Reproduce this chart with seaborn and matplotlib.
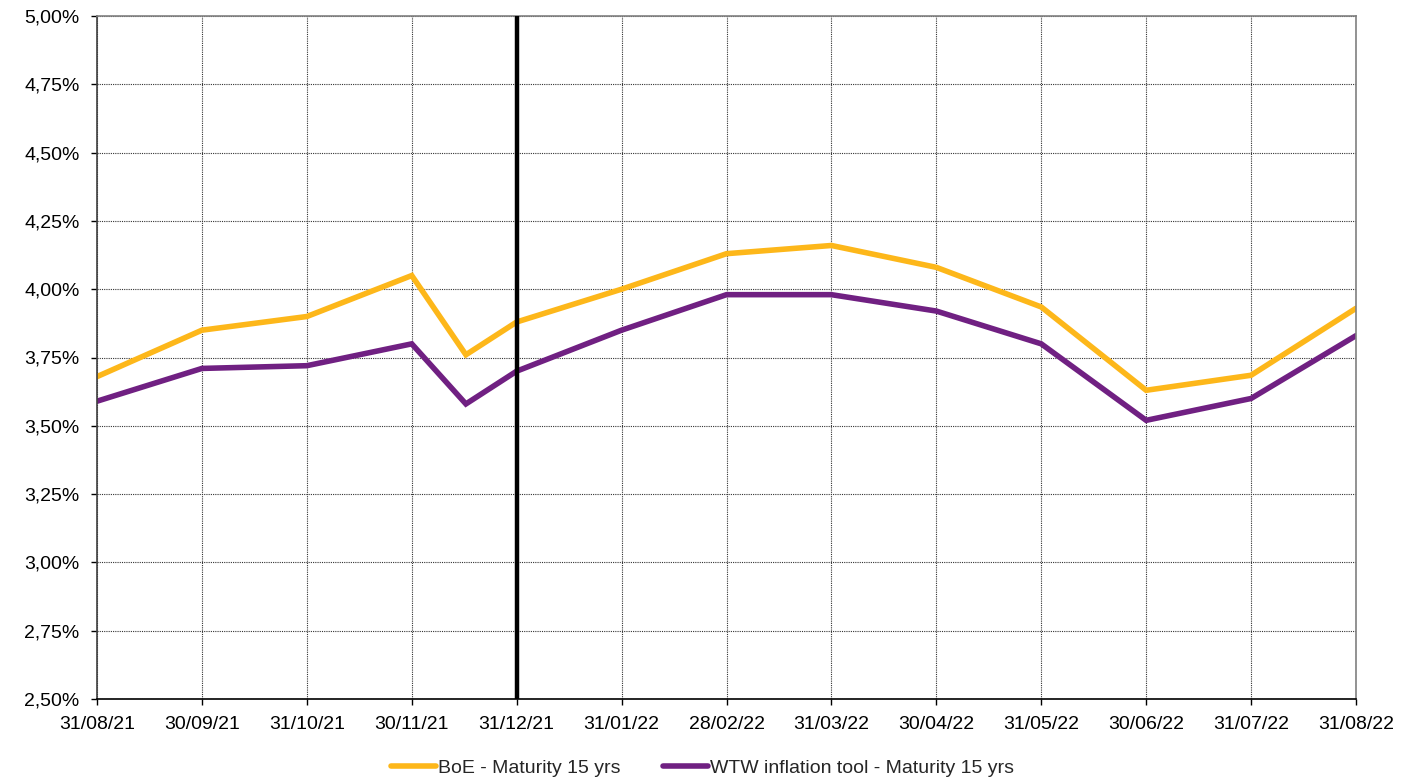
import calendar
import pandas as pd
import matplotlib
matplotlib.use("Agg")
import matplotlib.pyplot as plt
import seaborn as sns

# data
dates = ["2021-08-31", "2021-09-30", "2021-10-31", "2021-11-30", "2021-12-16",
         "2021-12-31", "2022-01-31", "2022-02-28", "2022-03-31", "2022-04-30",
         "2022-05-31", "2022-06-30", "2022-07-31", "2022-08-31"]
boe = [3.68, 3.85, 3.90, 4.05, 3.76, 3.88, 4.00, 4.13, 4.16, 4.08, 3.935, 3.63, 3.685, 3.93]
wtw = [3.59, 3.71, 3.72, 3.80, 3.58, 3.70, 3.85, 3.98, 3.98, 3.92, 3.80, 3.52, 3.60, 3.83]
series_names = ["BoE - Maturity 15 yrs", "WTW inflation tool - Maturity 15 yrs"]
colors = ["#FDB71A", "#702082"]
tick_dates = ["31/08/21", "30/09/21", "31/10/21", "30/11/21", "31/12/21", "31/01/22", "28/02/22",
              "31/03/22", "30/04/22", "31/05/22", "30/06/22", "31/07/22", "31/08/22"]
marker_date = "2021-12-31"


def month_pos(d):
    # month-based axis like Excel: each month end sits on a whole number
    d = pd.Timestamp(d)
    start = pd.Timestamp(dates[0])
    ndays = calendar.monthrange(d.year, d.month)[1]
    return (d.year * 12 + d.month) - (start.year * 12 + start.month) - 1 + d.day / ndays


x = [month_pos(d) for d in dates]
df = pd.DataFrame({
    "x": x * 2,
    "value": boe + wtw,
    "series": [series_names[0]] * len(x) + [series_names[1]] * len(x),
})

sns.set_style("white")
plt.rcParams["font.family"] = ["Liberation Sans", "DejaVu Sans"]

fig = plt.figure(figsize=(14.19, 7.8), dpi=100)
ax = fig.add_axes([97 / 1419, 1 - 699 / 780, (1356 - 97) / 1419, (699 - 16) / 780])

sns.lineplot(data=df, x="x", y="value", hue="series", palette=colors,
             linewidth=4.0, ax=ax, legend=False, sort=False)
for line in ax.lines:
    line.set_solid_joinstyle("miter")

ax.axvline(month_pos(marker_date), color="black", linewidth=3.2, zorder=5)

ax.set_xlim(0, len(tick_dates) - 1)
ax.set_ylim(2.5, 5.0)
ax.set_xticks(range(len(tick_dates)))
ax.set_xticklabels(tick_dates)
yt = [2.5 + 0.25 * i for i in range(11)]
ax.set_yticks(yt)
ax.set_yticklabels([f"{v:.2f}%".replace(".", ",") for v in yt])
ax.tick_params(axis="both", labelsize=14, colors="black", length=4, width=1, direction="out",
               bottom=True, left=True)
ax.tick_params(axis="x", pad=8)
ax.tick_params(axis="y", pad=8.5)
ax.set_xlabel("")
ax.set_ylabel("")

ax.grid(True, color="#333333", linestyle=(0, (1, 1)), linewidth=0.8)
ax.set_axisbelow(True)
for side in ["left", "right", "top"]:
    ax.spines[side].set_color("#808080")
    ax.spines[side].set_linewidth(1.2)
ax.spines["bottom"].set_color("black")
ax.spines["bottom"].set_linewidth(1.2)
ax.spines["left"].set_color("#404040")

handles = [plt.Line2D([], [], color=c, linewidth=4.0) for c in colors]
fig.legend(handles, series_names, loc="center", bbox_to_anchor=(0.495, 1 - 768 / 780),
           ncol=2, frameon=False, fontsize=14, handlelength=2.3, handletextpad=0.1,
           columnspacing=2.2)

fig.savefig("out.png", dpi=100)
